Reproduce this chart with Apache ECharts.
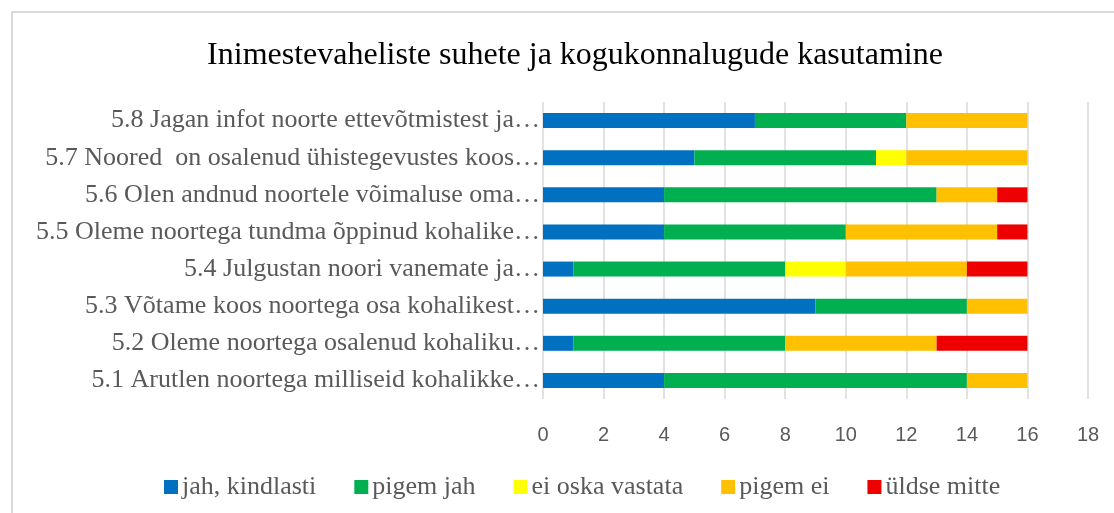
<!DOCTYPE html>
<html><head><meta charset="utf-8">
<script src="https://cdn.jsdelivr.net/npm/echarts@6/dist/echarts.min.js"></script>
<style>html,body{margin:0;padding:0;background:#fff;}#c{width:1114px;height:513px;}</style>
</head><body><div id="c"></div>
<script>
const categories = [
  "5.1 Arutlen noortega milliseid kohalikke…",
  "5.2 Oleme noortega osalenud kohaliku…",
  "5.3 Võtame koos noortega osa kohalikest…",
  "5.4 Julgustan noori vanemate ja…",
  "5.5 Oleme noortega tundma õppinud kohalike…",
  "5.6 Olen andnud noortele võimaluse oma…",
  "5.7 Noored  on osalenud ühistegevustes koos…",
  "5.8 Jagan infot noorte ettevõtmistest ja…"
];
const seriesNames = ["jah, kindlasti", "pigem jah", "ei oska vastata", "pigem ei", "üldse mitte"];
const jahKindlasti = [4, 1, 9, 1, 4, 4, 5, 7];
const pigemJah     = [10, 7, 5, 7, 6, 9, 6, 5];
const eiOska       = [0, 0, 0, 2, 0, 0, 1, 0];
const pigemEi      = [2, 5, 2, 4, 5, 2, 4, 4];
const uldseMitte   = [0, 3, 0, 2, 1, 1, 0, 0];
const colors = ["#0070C0", "#00B050", "#FFFF00", "#FFC000", "#EE0000"];
const values = [jahKindlasti, pigemJah, eiOska, pigemEi, uldseMitte];

const chart = echarts.init(document.getElementById('c'));
chart.setOption({
  animation: false,
  title: {
    text: "Inimestevaheliste suhete ja kogukonnalugude kasutamine",
    left: 570, top: 35, textAlign: 'center',
    textStyle: {fontFamily: 'Liberation Serif', fontSize: 32, fontWeight: 'normal', color: '#000'}
  },
  graphic: [{type: 'rect', shape: {x: 12, y: 12, width: 1200, height: 600},
    style: {fill: 'none', stroke: '#d9d9d9', lineWidth: 2}, z: -1}],
  legend: {
    data: seriesNames, bottom: 8, left: 159, itemWidth: 14, itemHeight: 14, itemGap: 38,
    icon: 'rect',
    textStyle: {fontFamily: 'Liberation Serif', fontSize: 26, color: '#595959', padding: [0,0,0,-1]}
  },
  grid: {left: 543, right: 26, top: 102, height: 297, containLabel: false},
  xAxis: {
    type: 'value', min: 0, max: 18, interval: 2,
    axisLine: {show: false}, axisTick: {show: false},
    splitLine: {lineStyle: {color: '#d9d9d9', width: 1.5}},
    axisLabel: {fontFamily: 'Liberation Sans', fontSize: 20, color: '#595959', margin: 26}
  },
  yAxis: {
    type: 'category', data: categories,
    axisLine: {show: false}, axisTick: {show: false},
    axisLabel: {fontFamily: 'Liberation Serif', fontSize: 26, color: '#595959', margin: 3}
  },
  series: seriesNames.map((n, i) => ({
    name: n, type: 'bar', stack: 'total', data: values[i], barWidth: 15,
    itemStyle: {color: colors[i]}
  }))
});
</script></body></html>
